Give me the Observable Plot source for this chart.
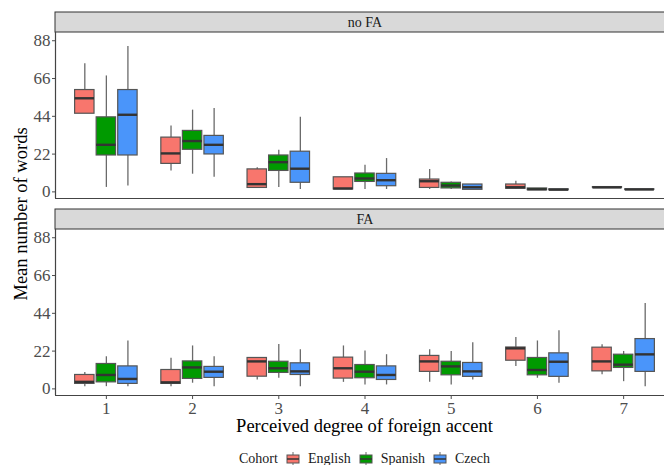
<!DOCTYPE html>
<html><head><meta charset="utf-8">
<script src="https://cdn.jsdelivr.net/npm/d3@7"></script>
<script src="https://cdn.jsdelivr.net/npm/@observablehq/plot@0.6"></script>
<style>
body{margin:0;background:#fff;font-family:"Liberation Serif",serif;}
#wrap{position:relative;width:664px;height:465px;overflow:hidden;}
#chart{width:674px;height:440px;}
#chart svg{max-width:none !important;display:block;}
#chart svg text{font-family:"Liberation Serif","Times New Roman",serif;}
#legend{position:absolute;left:239px;top:451px;display:flex;align-items:center;font-size:14px;color:#1a1a1a;white-space:nowrap;line-height:16px;}
#legend .sw{margin:0 8px 0 8px;display:block;}
</style></head><body><div id="wrap"><div id="chart"></div><div id="legend"></div></div>
<script>
const accents = [1, 2, 3, 4, 5, 6, 7];
const cohorts = ["English", "Spanish", "Czech"];
const panels = ["no FA", "FA"];
const colors = ["#F8766D", "#009a00", "#4a95fa"];
const yTicks = [0, 22, 44, 66, 88];

// each entry: [min, q1, median, q3, max] for accent levels 1..7 (null = no box)
const noFA_English = [[45.5,45.5,54.5,59.3,74.6],[12.2,16.3,22.4,31.6,38.3],[2.3,2.3,4.5,13.1,14.1],[1.4,1.4,2.0,8.5,8.5],[1.4,2.3,6.2,7.2,13.1],[1.4,1.8,2.7,4.3,6.2],null];
const noFA_Spanish = [[2.6,21.2,27.4,43.4,67.5],[10.3,24.5,29.6,35.5,47.6],[2.6,12.2,17.3,21.2,24.2],[1.4,5.8,7.8,10.7,15.5],[1.4,2.0,3.7,5.3,5.8],[1.0,1.0,1.5,2.0,2.0],[2.4,2.4,2.6,2.8,2.8]];
const noFA_Czech   = [[3.5,21.2,44.9,59.3,84.6],[8.5,21.8,27.4,32.6,48.5],[1.4,5.3,13.5,23.4,43.4],[1.4,3.3,6.8,10.5,19.4],[1.2,1.2,2.7,4.3,4.3],[1.0,1.0,1.3,1.5,1.5],[1.2,1.2,1.4,1.5,1.5]];
const FA_English   = [[1.3,2.9,4.1,8.1,9.6],[1.3,2.9,3.8,11.0,17.8],[5.2,7.1,16.0,18.0,18.0],[3.8,6.0,12.0,18.2,25.0],[3.8,9.9,16.0,19.2,22.8],[13.1,16.4,23.6,24.1,29.9],[8.3,10.2,16.0,24.0,25.7]];
const FA_Spanish   = [[1.3,3.8,8.1,14.5,18.7],[3.3,5.8,12.5,16.0,25.0],[6.2,9.3,12.0,15.8,25.9],[2.3,6.2,10.0,13.9,22.1],[2.3,7.9,13.1,15.8,21.8],[6.2,7.9,11.0,18.0,27.9],[4.2,12.2,14.1,19.9,21.8]];
const FA_Czech     = [[1.3,2.9,5.8,13.1,27.9],[1.3,6.4,10.0,12.8,18.7],[1.3,8.1,10.2,14.9,22.8],[2.3,5.2,8.1,13.1,19.9],[5.2,7.0,10.2,15.1,26.9],[3.3,7.0,15.8,20.7,33.8],[1.3,9.9,20.1,29.0,49.7]];

const series = {
  "no FA": [noFA_English, noFA_Spanish, noFA_Czech],
  "FA": [FA_English, FA_Spanish, FA_Czech]
};

const xDomain = [0.41, 7.59];
const yDomain = [-3.85, 92.8];
const stripUnits = 20 / (166 / (yDomain[1] - yDomain[0]));
const serif = "'Liberation Serif', 'Times New Roman', serif";

const rows = [];
for (const panel of panels) {
  accents.forEach((a, i) => {
    const present = cohorts.map((c, j) => ({c, s: series[panel][j][i]})).filter(d => d.s);
    const slot = 0.75 / present.length;
    present.forEach((d, k) => {
      const x = a - 0.375 + slot * (k + 0.5);
      const hw = slot * 0.9 / 2;
      const [min, q1, med, q3, max] = d.s;
      rows.push({panel, accent: a, cohort: d.c, x, x1: x - hw, x2: x + hw, min, q1, med, q3, max});
    });
  });
}

const chart = Plot.plot({
  width: 674,
  height: 440,
  marginLeft: 55,
  marginRight: 0,
  marginTop: 32,
  marginBottom: 45,
  style: {fontFamily: serif, background: "#fff", maxWidth: "none"},
  x: {type: "linear", domain: xDomain},
  y: {domain: yDomain},
  fy: {domain: panels, paddingInner: 0.1574, paddingOuter: 0, axis: null, label: null},
  color: {domain: cohorts, range: colors},
  marks: [
    Plot.rect(panels, {fy: d => d, x1: xDomain[0], x2: xDomain[1], y1: yDomain[1], y2: yDomain[1] + stripUnits, fill: "#d9d9d9", stroke: "#333", strokeWidth: 1}),
    Plot.text(panels, {fy: d => d, text: d => d, frameAnchor: "top", lineAnchor: "middle", dy: -10, fontSize: 14, fontFamily: serif, fill: "#1a1a1a"}),
    Plot.ruleX(rows, {fy: "panel", x: "x", y1: "min", y2: "q1", stroke: "#6a6a6a", strokeWidth: 1.3}),
    Plot.ruleX(rows, {fy: "panel", x: "x", y1: "q3", y2: "max", stroke: "#6a6a6a", strokeWidth: 1.3}),
    Plot.rect(rows, {fy: "panel", x1: "x1", x2: "x2", y1: "q1", y2: "q3", fill: "cohort", stroke: "#555", strokeWidth: 1.2}),
    Plot.ruleY(rows, {fy: "panel", y: "med", x1: "x1", x2: "x2", stroke: "#333", strokeWidth: 2.4}),
    Plot.ruleX([xDomain[0]], {stroke: "#444", strokeWidth: 1.2}),
    Plot.ruleY([yDomain[0]], {stroke: "#444", strokeWidth: 1.2}),
    Plot.axisY({ticks: yTicks, tickSize: 3, tickPadding: 2, fontSize: 17, fontFamily: serif, color: "#4d4d4d", label: null}),
    Plot.axisX({ticks: accents, tickSize: 4, tickPadding: 2, fontSize: 17, fontFamily: serif, color: "#4d4d4d", label: null, tickFormat: d => String(d)})
  ]
});
document.getElementById("chart").appendChild(chart);

const svg = d3.select(chart);
svg.append("text")
  .attr("transform", "translate(27,214) rotate(-90)")
  .attr("text-anchor", "middle")
  .attr("font-family", serif)
  .attr("font-size", 18.5).attr("fill", "#000")
  .text("Mean number of words");
svg.append("text")
  .attr("x", 364.5).attr("y", 431.5)
  .attr("text-anchor", "middle")
  .attr("font-family", serif)
  .attr("font-size", 18.5).attr("fill", "#000")
  .text("Perceived degree of foreign accent");

const legend = d3.select("#legend");
legend.append("span").attr("class", "lab").text("Cohort");
cohorts.forEach((c, i) => {
  const s = legend.append("svg").attr("class", "sw").attr("width", 14).attr("height", 14);
  s.append("line").attr("x1", 7).attr("x2", 7).attr("y1", 0).attr("y2", 14).attr("stroke", "#6a6a6a");
  s.append("rect").attr("x", 1).attr("y", 3).attr("width", 12).attr("height", 8).attr("fill", colors[i]).attr("stroke", "#555");
  s.append("line").attr("x1", 1).attr("x2", 13).attr("y1", 7).attr("y2", 7).attr("stroke", "#333").attr("stroke-width", 1.5);
  legend.append("span").attr("class", "lab").text(c);
});
</script></body></html>
